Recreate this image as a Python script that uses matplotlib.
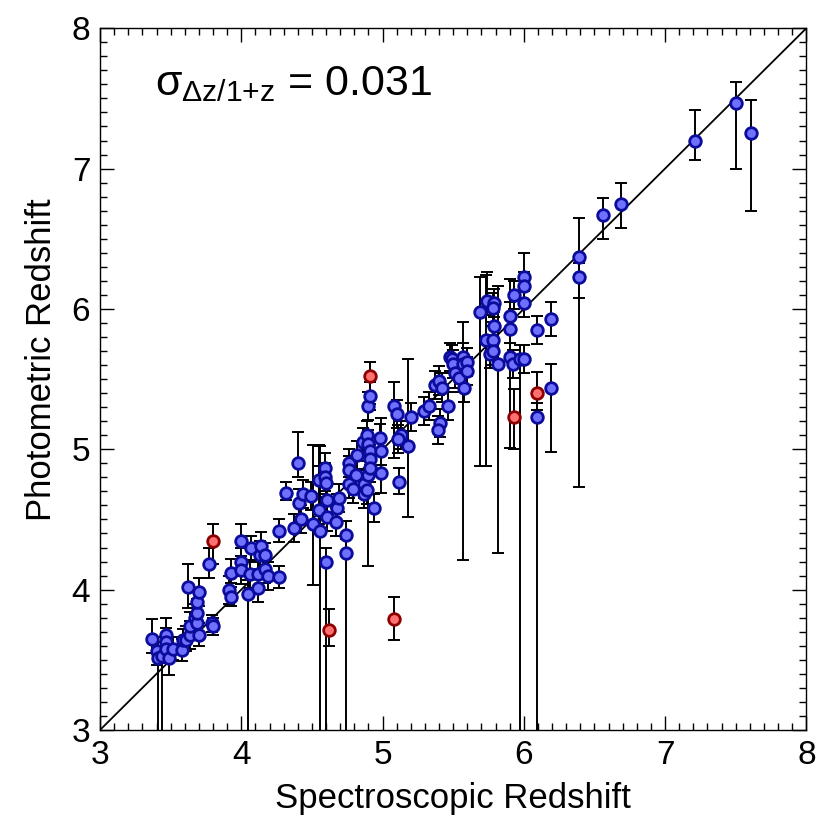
import numpy as np
import matplotlib
matplotlib.use("Agg")
import matplotlib.pyplot as plt

plt.rcParams['font.family'] = ['Liberation Sans', 'DejaVu Sans']
plt.rcParams['mathtext.fontset'] = 'custom'
plt.rcParams['mathtext.rm'] = 'Liberation Sans'
plt.rcParams['mathtext.it'] = 'Liberation Sans'
plt.rcParams['mathtext.sf'] = 'Liberation Sans'

# blue points: spectroscopic z, photometric z, lower / upper error
zspec = [3.37, 3.40, 3.41, 3.44, 3.47, 3.47, 3.47, 3.49, 3.52, 3.58, 3.59, 3.61,
         3.64, 3.64, 3.62, 3.67, 3.69, 3.70, 3.69, 3.69, 3.70, 3.79, 3.80, 3.77,
         3.91, 3.93, 3.93, 4.00, 4.00, 4.00, 4.05, 4.06, 4.07, 4.12, 4.12, 4.13,
         4.14, 4.17, 4.17, 4.19, 4.27, 4.27,
         4.32, 4.37, 4.40, 4.42, 4.41, 4.44, 4.49, 4.51, 4.55, 4.56, 4.55, 4.59,
         4.59, 4.60, 4.61, 4.61, 4.60, 4.68, 4.67, 4.69, 4.74, 4.74, 4.76, 4.76,
         4.76, 4.79, 4.81, 4.82,
         4.86, 4.87, 4.87, 4.89, 4.90, 4.90, 4.91, 4.91, 4.91, 4.89, 4.94, 4.98,
         4.99, 4.99, 4.90, 4.91, 5.08, 5.10, 5.13, 5.11, 5.18, 5.12, 5.20, 5.29,
         5.33, 5.37, 5.40, 5.42, 5.46, 5.41, 5.39,
         5.48, 5.49, 5.50, 5.51, 5.54, 5.57, 5.57, 5.60, 5.60, 5.58,
         5.69, 5.74, 5.79, 5.78, 5.79, 5.73, 5.78, 5.76, 5.78, 5.82, 5.90, 5.90,
         5.90, 5.92, 5.93, 5.97, 6.00, 6.00, 6.00, 6.00, 6.09, 6.19, 6.09, 6.19,
         6.39, 6.39, 6.56, 6.69, 7.21, 7.50, 7.61]
zphot = [3.65, 3.56, 3.51, 3.53, 3.68, 3.63, 3.58, 3.51, 3.58, 3.57, 3.64, 3.64,
         3.68, 3.74, 4.02, 3.80, 3.76, 3.68, 3.83, 3.91, 3.98, 3.76, 3.74, 4.18,
         4.00, 3.95, 4.12, 4.35, 4.20, 4.14, 3.97, 4.11, 4.30, 4.01, 4.11, 4.25,
         4.31, 4.25, 4.15, 4.10, 4.09, 4.42,
         4.69, 4.44, 4.90, 4.50, 4.62, 4.68, 4.67, 4.47, 4.57, 4.42, 4.78, 4.87,
         4.80, 4.76, 4.64, 4.52, 4.20, 4.58, 4.48, 4.65, 4.39, 4.26, 4.90, 4.85,
         4.75, 4.72, 4.82, 4.96,
         5.05, 4.75, 4.68, 5.10, 5.04, 4.82, 4.99, 4.93, 4.87, 4.71, 4.58, 5.08,
         4.99, 4.83, 5.31, 5.38, 5.31, 5.25, 5.10, 5.07, 5.02, 4.77, 5.23, 5.27,
         5.31, 5.46, 5.49, 5.44, 5.31, 5.19, 5.14,
         5.66, 5.64, 5.61, 5.54, 5.51, 5.66, 5.61, 5.62, 5.56, 5.44,
         5.98, 6.06, 6.04, 6.01, 5.88, 5.78, 5.78, 5.68, 5.70, 5.61, 5.95, 5.86,
         5.66, 5.61, 6.10, 5.64, 5.64, 6.23, 6.16, 6.04, 5.85, 5.93, 5.23, 5.44,
         6.37, 6.23, 6.67, 6.75, 7.20, 7.47, 7.25]
err_lo = [0.10, 0.10, 1.00, 1.00, 0.10, 0.10, 0.10, 0.12, 0.08, 0.08, 0.08, 0.08,
          0.10, 0.10, 0.15, 0.10, 0.08, 0.08, 0.10, 0.10, 0.10, 0.06, 0.06, 0.10,
          0.10, 0.07, 0.10, 0.15, 0.10, 0.10, 1.20, 0.10, 0.10, 0.10, 0.10, 0.10,
          0.10, 0.08, 0.10, 0.10, 0.08, 0.08,
          0.05, 0.10, 0.10, 0.10, 0.10, 0.10, 0.10, 0.44, 0.10, 2.00, 0.10, 0.10,
          0.10, 0.10, 0.10, 0.10, 2.00, 0.10, 0.10, 0.10, 0.15, 2.00, 0.10, 0.10,
          0.10, 0.10, 0.10, 0.10,
          0.10, 0.10, 0.10, 0.10, 0.10, 0.65, 0.10, 0.10, 0.10, 0.10, 0.10, 0.10,
          0.10, 0.14, 0.10, 0.10, 0.37, 0.10, 0.10, 0.10, 0.50, 0.09, 0.10, 0.10,
          0.10, 0.10, 0.10, 0.10, 0.10, 0.10, 0.10,
          0.10, 0.10, 0.10, 0.10, 0.10, 0.10, 1.40, 0.10, 0.10, 0.10,
          1.10, 0.10, 0.10, 0.10, 0.10, 0.90, 0.10, 0.10, 0.10, 1.35, 0.10, 0.10,
          0.65, 0.10, 0.10, 3.00, 0.10, 0.10, 0.10, 0.10, 0.10, 0.12, 3.00, 0.46,
          0.29, 1.50, 0.17, 0.17, 0.14, 0.47, 0.55]
err_hi = [0.14, 0.10, 0.12, 0.10, 0.12, 0.10, 0.10, 0.10, 0.08, 0.08, 0.08, 0.10,
          0.10, 0.10, 0.16, 0.10, 0.08, 0.08, 0.10, 0.10, 0.10, 0.06, 0.06, 0.12,
          0.10, 0.10, 0.10, 0.12, 0.10, 0.10, 0.10, 0.10, 0.08, 0.10, 0.10, 0.10,
          0.10, 0.08, 0.10, 0.10, 0.08, 0.08,
          0.08, 0.10, 0.22, 0.10, 0.10, 0.10, 0.10, 0.56, 0.46, 0.60, 0.10, 0.10,
          0.10, 0.10, 0.10, 0.10, 0.10, 0.10, 0.10, 0.10, 0.10, 0.10, 0.10, 0.10,
          0.10, 0.10, 0.10, 0.10,
          0.10, 0.10, 0.10, 0.10, 0.10, 0.10, 0.10, 0.10, 0.10, 0.10, 0.10, 0.10,
          0.10, 0.39, 0.10, 0.10, 0.17, 0.10, 0.10, 0.10, 0.62, 0.10, 0.10, 0.10,
          0.10, 0.10, 0.10, 0.10, 0.10, 0.10, 0.10,
          0.10, 0.10, 0.10, 0.10, 0.10, 0.10, 0.30, 0.10, 0.10, 0.10,
          0.25, 0.20, 0.10, 0.10, 0.10, 0.46, 0.10, 0.10, 0.10, 0.55, 0.10, 0.10,
          0.55, 0.10, 0.10, 0.10, 0.10, 0.17, 0.10, 0.10, 0.10, 0.12, 0.10, 0.17,
          0.28, 0.10, 0.12, 0.15, 0.22, 0.15, 0.24]

# red points (outliers)
zspec_out = [3.80, 4.62, 4.91, 5.08, 5.93, 6.09]
zphot_out = [4.35, 3.71, 5.52, 3.79, 5.23, 5.40]
out_lo = [0.17, 0.11, 0.20, 0.15, 0.23, 0.12]
out_hi = [0.12, 0.15, 0.10, 0.16, 0.20, 0.15]

sigma_label = r'$\sigma_{\Delta z/1{+}z}$ = 0.031'

fig = plt.figure(figsize=(8.3, 8.3), dpi=100)
ax = fig.add_axes([0.1205, 0.1205, 0.851, 0.8455])

ax.plot([3, 8], [3, 8], color='black', lw=1.3, zorder=1)

ax.errorbar(zspec, zphot, yerr=[err_lo, err_hi], fmt='none', ecolor='black',
            elinewidth=1.4, capsize=4, capthick=1.4, zorder=2)
ax.errorbar(zspec_out, zphot_out, yerr=[out_lo, out_hi], fmt='none', ecolor='black',
            elinewidth=1.4, capsize=4, capthick=1.4, zorder=2)

ax.scatter(zspec, zphot, s=70, facecolor='#7070ff', edgecolor='#0c0c9c',
           linewidth=2.0, zorder=3)
ax.scatter(zspec_out, zphot_out, s=70, facecolor='#ff7070', edgecolor='#8c0000',
           linewidth=2.0, zorder=3)

ax.set_xlim(3, 8)
ax.set_ylim(3, 8)
ax.set_xticks([3, 4, 5, 6, 7, 8])
ax.set_yticks([3, 4, 5, 6, 7, 8])
ax.minorticks_on()
ax.xaxis.set_minor_locator(matplotlib.ticker.MultipleLocator(0.1))
ax.yaxis.set_minor_locator(matplotlib.ticker.MultipleLocator(0.1))
ax.tick_params(which='both', direction='in', top=True, right=True, width=1.0)
ax.tick_params(which='major', length=10, labelsize=24, pad=7)
ax.tick_params(which='minor', length=5)
for sp in ax.spines.values():
    sp.set_linewidth(1.0)

ax.set_xlabel('Spectroscopic Redshift', fontsize=25, labelpad=8)
ax.set_ylabel('Photometric Redshift', fontsize=25, labelpad=10, y=0.527)

ax.text(3.39, 7.6, sigma_label, fontsize=31, ha='left', va='center')

fig.savefig('out.png', dpi=100)
